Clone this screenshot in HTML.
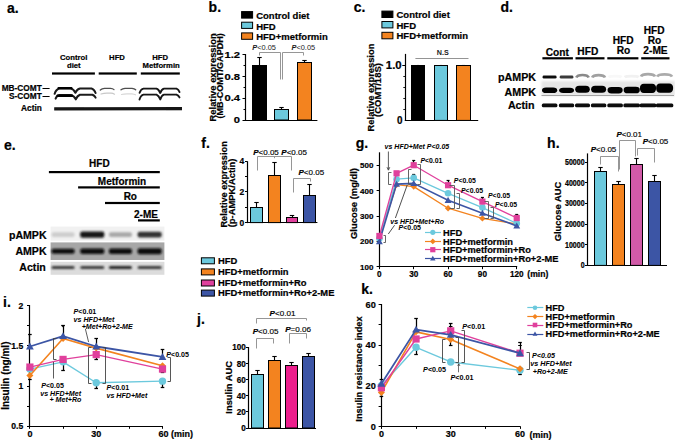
<!DOCTYPE html>
<html><head><meta charset="utf-8"><style>
html,body{margin:0;padding:0;background:#fff;width:675px;height:441px;overflow:hidden}
svg{display:block;font-family:"Liberation Sans", sans-serif}
</style></head><body>
<svg width="675" height="441" viewBox="0 0 675 441" font-family='"Liberation Sans", sans-serif'>
<defs>
<filter id="blur5" filterUnits="userSpaceOnUse" x="0" y="0" width="675" height="441"><feGaussianBlur stdDeviation="0.5"/></filter>
<filter id="blur6" filterUnits="userSpaceOnUse" x="0" y="0" width="675" height="441"><feGaussianBlur stdDeviation="0.6"/></filter>
<filter id="blur8" filterUnits="userSpaceOnUse" x="0" y="0" width="675" height="441"><feGaussianBlur stdDeviation="0.8"/></filter>
</defs>
<rect width="675" height="441" fill="#fff"/>
<text transform="translate(6.90,13.00)" font-size="14" text-anchor="start" font-weight="bold" font-style="normal" fill="#000" stroke="#000" stroke-width="0.2">a.</text>
<text transform="translate(73.60,60.00)" font-size="7.7" text-anchor="middle" font-weight="bold" font-style="normal" fill="#000" stroke="#000" stroke-width="0.2">Control</text>
<text transform="translate(73.80,68.40)" font-size="7.7" text-anchor="middle" font-weight="bold" font-style="normal" fill="#000" stroke="#000" stroke-width="0.2">diet</text>
<text transform="translate(117.00,60.00)" font-size="7.7" text-anchor="middle" font-weight="bold" font-style="normal" fill="#000" stroke="#000" stroke-width="0.2">HFD</text>
<text transform="translate(160.20,60.00)" font-size="7.7" text-anchor="middle" font-weight="bold" font-style="normal" fill="#000" stroke="#000" stroke-width="0.2">HFD</text>
<text transform="translate(161.20,68.40)" font-size="7.7" text-anchor="middle" font-weight="bold" font-style="normal" fill="#000" stroke="#000" stroke-width="0.2">Metformin</text>
<rect x="52.00" y="72.40" width="42.90" height="2.20" fill="#000" stroke="none" stroke-width="1"/>
<rect x="98.70" y="72.40" width="38.10" height="2.20" fill="#000" stroke="none" stroke-width="1"/>
<rect x="140.80" y="72.40" width="39.00" height="2.20" fill="#000" stroke="none" stroke-width="1"/>
<text transform="translate(41.80,90.80)" font-size="8.3" text-anchor="end" font-weight="bold" font-style="normal" fill="#000" stroke="#000" stroke-width="0.2">MB-COMT</text>
<line x1="42.50" y1="88.50" x2="49.60" y2="88.50" stroke="#000" stroke-width="1.0"/>
<text transform="translate(41.80,99.10)" font-size="8.3" text-anchor="end" font-weight="bold" font-style="normal" fill="#000" stroke="#000" stroke-width="0.2">S-COMT</text>
<line x1="42.50" y1="96.50" x2="49.60" y2="96.50" stroke="#000" stroke-width="1.0"/>
<text transform="translate(41.80,110.70)" font-size="8.3" text-anchor="end" font-weight="bold" font-style="normal" fill="#000" stroke="#000" stroke-width="0.2">Actin</text>
<g filter="url(#blur5)" stroke-linejoin="round" stroke-linecap="round">
<path d="M54.6,93.8 Q56.2,89.2 59.5,88.6 L70.5,88.6 Q73.5,89.0 75.4,92.8 Q77.0,89.0 80.0,88.5 L91.5,88.5 Q94.2,89.2 95.6,93.0" stroke="#1a1a1a" stroke-width="2.0" fill="none"/>
<path d="M58.5,88.2 L71.5,88.2" stroke="#000" stroke-width="2.2" fill="none"/>
<path d="M55.6,98.6 Q56.6,95.6 59.5,95.0 L71.0,95.0 Q74.0,95.8 75.8,99.4 Q77.4,95.6 80.0,94.7 L92.5,94.8 Q94.6,95.6 95.6,97.6" stroke="#1a1a1a" stroke-width="2.0" fill="none"/>
<path d="M57.6,95.8 L72.0,95.8" stroke="#000" stroke-width="2.4" fill="none"/>
<path d="M100.3,90.0 Q102,88.4 104.5,88.3 L110.5,88.3 Q112.8,88.4 114.0,89.6" stroke="#505050" stroke-width="1.3" fill="none"/>
<path d="M121.0,89.8 Q122.5,88.4 125,88.3 L132,88.3 Q134.4,88.5 135.7,89.8" stroke="#505050" stroke-width="1.3" fill="none"/>
<path d="M101,94.0 Q104,93.2 107,93.2 L111,93.2 Q113,93.4 114.5,94.2" stroke="#c8c8c8" stroke-width="1.2" fill="none"/>
<path d="M121.5,94.5 Q124,93.8 127,93.8 L132,93.8 Q134,94 135.5,94.8" stroke="#d8d8d8" stroke-width="1.2" fill="none"/>
<path d="M139.6,92.8 Q140.8,89.0 143.5,88.6 L156.5,88.6 Q158.6,89.2 160.3,93.0 Q161.6,89.2 164.0,88.6 L176.5,88.6 Q178.6,89.3 179.5,92.0" stroke="#151515" stroke-width="1.9" fill="none"/>
<path d="M139.5,99.6 Q140.8,95.2 143.5,94.6 L156.5,94.6 Q158.6,95.4 160.3,99.4 Q161.6,95.2 164.0,94.6 L176.5,94.6 Q178.6,95.4 179.5,97.4" stroke="#151515" stroke-width="1.9" fill="none"/>
</g>
<g filter="url(#blur6)">
<path d="M54.2,108.9 L182.0,108.7" stroke="#151515" stroke-width="3.3" fill="none"/>
</g>
<text transform="translate(208.60,11.60)" font-size="14" text-anchor="start" font-weight="bold" font-style="normal" fill="#000" stroke="#000" stroke-width="0.2">b.</text>
<rect x="241.60" y="11.60" width="11.00" height="6.50" fill="#000" stroke="#000" stroke-width="1.0"/>
<rect x="241.60" y="22.20" width="11.00" height="6.20" fill="#6cc9dd" stroke="#000" stroke-width="1.0"/>
<rect x="241.60" y="32.90" width="11.00" height="6.40" fill="#f3831f" stroke="#000" stroke-width="1.0"/>
<text transform="translate(256.20,19.00)" font-size="9.5" text-anchor="start" font-weight="bold" font-style="normal" fill="#000" stroke="#000" stroke-width="0.2">Control diet</text>
<text transform="translate(256.20,29.50)" font-size="9.5" text-anchor="start" font-weight="bold" font-style="normal" fill="#000" stroke="#000" stroke-width="0.2">HFD</text>
<text transform="translate(256.20,40.00)" font-size="9.5" text-anchor="start" font-weight="bold" font-style="normal" fill="#000" stroke="#000" stroke-width="0.2">HFD+metformin</text>
<line x1="245.50" y1="54.00" x2="245.50" y2="120.50" stroke="#000" stroke-width="1.2"/>
<line x1="245.00" y1="120.50" x2="317.40" y2="120.50" stroke="#000" stroke-width="1.2"/>
<line x1="242.50" y1="120.50" x2="245.50" y2="120.50" stroke="#000" stroke-width="1.0"/>
<line x1="243.50" y1="109.50" x2="245.50" y2="109.50" stroke="#000" stroke-width="1.0"/>
<line x1="242.50" y1="98.50" x2="245.50" y2="98.50" stroke="#000" stroke-width="1.0"/>
<line x1="243.50" y1="87.50" x2="245.50" y2="87.50" stroke="#000" stroke-width="1.0"/>
<line x1="242.50" y1="76.50" x2="245.50" y2="76.50" stroke="#000" stroke-width="1.0"/>
<line x1="243.50" y1="65.50" x2="245.50" y2="65.50" stroke="#000" stroke-width="1.0"/>
<line x1="242.50" y1="54.50" x2="245.50" y2="54.50" stroke="#000" stroke-width="1.0"/>
<text transform="translate(240.00,57.80) scale(1.18,1.0)" font-size="9.5" text-anchor="end" font-weight="bold" font-style="normal" fill="#000" stroke="#000" stroke-width="0.2">1.2</text>
<text transform="translate(240.00,79.60) scale(1.18,1.0)" font-size="9.5" text-anchor="end" font-weight="bold" font-style="normal" fill="#000" stroke="#000" stroke-width="0.2">0.8</text>
<text transform="translate(240.00,101.40) scale(1.18,1.0)" font-size="9.5" text-anchor="end" font-weight="bold" font-style="normal" fill="#000" stroke="#000" stroke-width="0.2">0.4</text>
<text transform="translate(240.00,123.20) scale(1.18,1.0)" font-size="9.5" text-anchor="end" font-weight="bold" font-style="normal" fill="#000" stroke="#000" stroke-width="0.2">0</text>
<text transform="translate(215.70,77.40) rotate(-90)" font-size="9.4" text-anchor="middle" font-weight="bold" font-style="normal" fill="#000" stroke="#000" stroke-width="0.2">Relative expression</text>
<text transform="translate(223.20,75.80) rotate(-90)" font-size="9.1" text-anchor="middle" font-weight="bold" font-style="normal" fill="#000" stroke="#000" stroke-width="0.2">(MB-COMT/GAPDH)</text>
<path d="M259.50,55.50 L259.50,52.50 L280.50,52.50 L280.50,79.50" stroke="#8a8a8a" stroke-width="0.9" fill="none"/>
<path d="M282.50,79.50 L282.50,52.50 L303.50,52.50 L303.50,55.50" stroke="#8a8a8a" stroke-width="0.9" fill="none"/>
<text transform="translate(264.10,49.90)" font-size="7.4" text-anchor="middle" font-weight="bold" font-style="normal" fill="#1a1a1a"><tspan font-style="italic">P</tspan><tspan font-weight="normal" stroke-width="0.15">&lt;0.05</tspan></text>
<text transform="translate(303.30,49.90)" font-size="7.4" text-anchor="middle" font-weight="bold" font-style="normal" fill="#1a1a1a"><tspan font-style="italic">P</tspan><tspan font-weight="normal" stroke-width="0.15">&lt;0.05</tspan></text>
<line x1="259.50" y1="65.50" x2="259.50" y2="57.30" stroke="#000" stroke-width="1.1"/>
<line x1="257.30" y1="57.50" x2="261.70" y2="57.50" stroke="#000" stroke-width="1.1"/>
<rect x="252.50" y="65.50" width="14.00" height="54.50" fill="#000" stroke="#000" stroke-width="1.0"/>
<line x1="281.50" y1="109.50" x2="281.50" y2="107.60" stroke="#000" stroke-width="1.1"/>
<line x1="279.30" y1="107.50" x2="283.70" y2="107.50" stroke="#000" stroke-width="1.1"/>
<rect x="274.50" y="109.50" width="14.00" height="10.50" fill="#6cc9dd" stroke="#000" stroke-width="1.0"/>
<line x1="304.50" y1="62.50" x2="304.50" y2="60.40" stroke="#000" stroke-width="1.1"/>
<line x1="302.30" y1="60.50" x2="306.70" y2="60.50" stroke="#000" stroke-width="1.1"/>
<rect x="297.50" y="62.50" width="14.00" height="57.50" fill="#f3831f" stroke="#000" stroke-width="1.0"/>
<text transform="translate(353.70,12.40)" font-size="14" text-anchor="start" font-weight="bold" font-style="normal" fill="#000" stroke="#000" stroke-width="0.2">c.</text>
<rect x="381.90" y="11.10" width="11.00" height="6.40" fill="#000" stroke="#000" stroke-width="1.0"/>
<rect x="381.90" y="21.50" width="11.00" height="6.40" fill="#6cc9dd" stroke="#000" stroke-width="1.0"/>
<rect x="381.90" y="32.30" width="11.00" height="6.50" fill="#f3831f" stroke="#000" stroke-width="1.0"/>
<text transform="translate(396.50,18.40)" font-size="9.5" text-anchor="start" font-weight="bold" font-style="normal" fill="#000" stroke="#000" stroke-width="0.2">Control diet</text>
<text transform="translate(396.50,28.80)" font-size="9.5" text-anchor="start" font-weight="bold" font-style="normal" fill="#000" stroke="#000" stroke-width="0.2">HFD</text>
<text transform="translate(396.50,39.40)" font-size="9.5" text-anchor="start" font-weight="bold" font-style="normal" fill="#000" stroke="#000" stroke-width="0.2">HFD+metformin</text>
<line x1="405.50" y1="53.90" x2="405.50" y2="120.90" stroke="#000" stroke-width="1.2"/>
<line x1="404.80" y1="120.50" x2="478.20" y2="120.50" stroke="#000" stroke-width="1.2"/>
<line x1="403.30" y1="109.50" x2="405.30" y2="109.50" stroke="#000" stroke-width="0.9"/>
<line x1="403.30" y1="98.50" x2="405.30" y2="98.50" stroke="#000" stroke-width="0.9"/>
<line x1="403.30" y1="87.50" x2="405.30" y2="87.50" stroke="#000" stroke-width="0.9"/>
<line x1="403.30" y1="76.50" x2="405.30" y2="76.50" stroke="#000" stroke-width="0.9"/>
<line x1="402.30" y1="65.50" x2="405.30" y2="65.50" stroke="#000" stroke-width="1.0"/>
<text transform="translate(401.70,68.50) scale(1.085,1.0)" font-size="10.5" text-anchor="end" font-weight="bold" font-style="normal" fill="#000" stroke="#000" stroke-width="0.2">1.0</text>
<text transform="translate(402.40,124.40) scale(0.9,1.0)" font-size="11.0" text-anchor="end" font-weight="bold" font-style="normal" fill="#000" stroke="#000" stroke-width="0.22222222222222224">0</text>
<text transform="translate(373.60,87.50) rotate(-90)" font-size="9.35" text-anchor="middle" font-weight="bold" font-style="normal" fill="#000" stroke="#000" stroke-width="0.2">Relative expression</text>
<text transform="translate(381.40,90.00) rotate(-90)" font-size="9.5" text-anchor="middle" font-weight="bold" font-style="normal" fill="#000" stroke="#000" stroke-width="0.2">(COMT/18S)</text>
<line x1="415.40" y1="58.50" x2="468.50" y2="58.50" stroke="#888" stroke-width="0.9"/>
<text transform="translate(442.70,55.30)" font-size="7.2" text-anchor="middle" font-weight="bold" font-style="normal" fill="#222">N.S</text>
<line x1="418.50" y1="65.50" x2="418.50" y2="65.00" stroke="#000" stroke-width="1.1"/>
<line x1="416.50" y1="65.50" x2="419.50" y2="65.50" stroke="#000" stroke-width="1.1"/>
<rect x="411.50" y="65.50" width="13.00" height="54.90" fill="#000" stroke="#000" stroke-width="1.0"/>
<line x1="441.50" y1="65.50" x2="441.50" y2="65.00" stroke="#000" stroke-width="1.1"/>
<line x1="439.50" y1="65.50" x2="442.50" y2="65.50" stroke="#000" stroke-width="1.1"/>
<rect x="434.50" y="65.50" width="13.00" height="54.90" fill="#6cc9dd" stroke="#000" stroke-width="1.0"/>
<line x1="463.50" y1="65.50" x2="463.50" y2="65.00" stroke="#000" stroke-width="1.1"/>
<line x1="462.00" y1="65.50" x2="465.00" y2="65.50" stroke="#000" stroke-width="1.1"/>
<rect x="456.50" y="65.50" width="14.00" height="54.90" fill="#f3831f" stroke="#000" stroke-width="1.0"/>
<text transform="translate(500.50,12.40)" font-size="14" text-anchor="start" font-weight="bold" font-style="normal" fill="#000" stroke="#000" stroke-width="0.2">d.</text>
<text transform="translate(557.30,55.50)" font-size="10.2" text-anchor="middle" font-weight="bold" font-style="normal" fill="#000" stroke="#000" stroke-width="0.2">Cont</text>
<text transform="translate(587.80,55.00)" font-size="10.2" text-anchor="middle" font-weight="bold" font-style="normal" fill="#000" stroke="#000" stroke-width="0.2">HFD</text>
<text transform="translate(623.10,44.10)" font-size="10.2" text-anchor="middle" font-weight="bold" font-style="normal" fill="#000" stroke="#000" stroke-width="0.2">HFD</text>
<text transform="translate(623.50,54.20)" font-size="10.2" text-anchor="middle" font-weight="bold" font-style="normal" fill="#000" stroke="#000" stroke-width="0.2">Ro</text>
<text transform="translate(654.10,33.60)" font-size="10.2" text-anchor="middle" font-weight="bold" font-style="normal" fill="#000" stroke="#000" stroke-width="0.2">HFD</text>
<text transform="translate(654.50,43.80)" font-size="10.2" text-anchor="middle" font-weight="bold" font-style="normal" fill="#000" stroke="#000" stroke-width="0.2">Ro</text>
<text transform="translate(655.50,54.20)" font-size="10.2" text-anchor="middle" font-weight="bold" font-style="normal" fill="#000" stroke="#000" stroke-width="0.2">2-ME</text>
<rect x="542.40" y="57.20" width="30.50" height="2.20" fill="#000" stroke="none" stroke-width="1"/>
<rect x="575.50" y="57.20" width="29.00" height="2.20" fill="#000" stroke="none" stroke-width="1"/>
<rect x="607.30" y="57.20" width="31.10" height="2.20" fill="#000" stroke="none" stroke-width="1"/>
<rect x="641.20" y="57.20" width="28.30" height="2.20" fill="#000" stroke="none" stroke-width="1"/>
<text transform="translate(536.00,81.30)" font-size="10.7" text-anchor="end" font-weight="bold" font-style="normal" fill="#000" stroke="#000" stroke-width="0.2">pAMPK</text>
<text transform="translate(536.00,96.00)" font-size="10.7" text-anchor="end" font-weight="bold" font-style="normal" fill="#000" stroke="#000" stroke-width="0.2">AMPK</text>
<text transform="translate(534.60,108.90)" font-size="10.7" text-anchor="end" font-weight="bold" font-style="normal" fill="#000" stroke="#000" stroke-width="0.2">Actin</text>
<rect x="541.50" y="81.00" width="133.50" height="15.00" fill="#e6e6e6" stroke="none" stroke-width="1" filter="url(#blur8)"/>
<line x1="541.50" y1="95.50" x2="674.00" y2="95.50" stroke="#9a9a9a" stroke-width="0.9"/>
<g filter="url(#blur6)">
<rect x="542.6" y="75.4" width="14.0" height="3.2" rx="1.4" fill="#111"/>
<rect x="559.7" y="75.4" width="13.699999999999932" height="3.2" rx="1.4" fill="#3a3a3a"/>
<path d="M576.3,77.6 Q577.3,75.0 582.5,75.0 Q587.7,75.0 588.7,77.6" stroke="#8a8a8a" stroke-width="2.7" fill="none"/>
<path d="M592.2,77.6 Q593.2,75.2 598.6,75.2 Q604.0,75.2 605.0,77.6" stroke="#a0a0a0" stroke-width="2.7" fill="none"/>
<path d="M608.6,77.2 Q609.6,76.2 615.1,76.2 Q620.6,76.2 621.6,77.2" stroke="#f8f8f8" stroke-width="2.7" fill="none"/>
<path d="M624.7,77.2 Q625.7,76.2 631.7,76.2 Q637.7,76.2 638.7,77.2" stroke="#f1f1f1" stroke-width="2.7" fill="none"/>
<path d="M641.0,76.6 Q642.0,74.2 648.0,74.2 Q654.0,74.2 655.0,76.6" stroke="#a8a8a8" stroke-width="2.7" fill="none"/>
<path d="M657.2,76.6 Q658.2,74.3 664.6,74.3 Q671.0,74.3 672.0,76.6" stroke="#ababab" stroke-width="2.7" fill="none"/>
</g>
<g filter="url(#blur6)">
<path d="M542.0,90.2 Q542.0,87.7 546.0,87.60000000000001 L553.2,87.60000000000001 Q557.2,87.7 557.2,90.2 Q557.2,93.0 553.2,93.0 L546.0,93.0 Q542.0,93.0 542.0,90.2 Z" fill="#060606"/>
<path d="M559.1,90.3 Q559.1,87.89999999999999 563.1,87.8 L570.0,87.8 Q574.0,87.89999999999999 574.0,90.3 Q574.0,93.0 570.0,93.0 L563.1,93.0 Q559.1,93.0 559.1,90.3 Z" fill="#060606"/>
<path d="M575.1999999999999,89.19999999999999 Q575.1999999999999,85.89999999999999 579.1999999999999,85.8 L585.8000000000001,85.8 Q589.8000000000001,85.89999999999999 589.8000000000001,89.19999999999999 Q589.8000000000001,92.8 585.8000000000001,92.8 L579.1999999999999,92.8 Q575.1999999999999,92.8 575.1999999999999,89.19999999999999 Z" fill="#060606"/>
<path d="M591.1,89.19999999999999 Q591.1,85.89999999999999 595.1,85.8 L602.1,85.8 Q606.1,85.89999999999999 606.1,89.19999999999999 Q606.1,92.8 602.1,92.8 L595.1,92.8 Q591.1,92.8 591.1,89.19999999999999 Z" fill="#060606"/>
<path d="M607.5,90.05000000000001 Q607.5,87.0 611.5,86.9 L618.7,86.9 Q622.7,87.0 622.7,90.05000000000001 Q622.7,93.4 618.7,93.4 L611.5,93.4 Q607.5,93.4 607.5,90.05000000000001 Z" fill="#060606"/>
<path d="M623.6,89.9 Q623.6,86.8 627.6,86.7 L635.8000000000001,86.7 Q639.8000000000001,86.8 639.8000000000001,89.9 Q639.8000000000001,93.3 635.8000000000001,93.3 L627.6,93.3 Q623.6,93.3 623.6,89.9 Z" fill="#060606"/>
<path d="M639.9,88.3 Q639.9,83.89999999999999 643.9,83.8 L652.1,83.8 Q656.1,83.89999999999999 656.1,88.3 Q656.1,93.0 652.1,93.0 L643.9,93.0 Q639.9,93.0 639.9,88.3 Z" fill="#060606"/>
<path d="M656.1,88.1 Q656.1,83.7 660.1,83.60000000000001 L669.1,83.60000000000001 Q673.1,83.7 673.1,88.1 Q673.1,92.8 669.1,92.8 L660.1,92.8 Q656.1,92.8 656.1,88.1 Z" fill="#060606"/>
</g>
<g filter="url(#blur6)">
<rect x="541.8000000000001" y="103.5" width="15.6" height="3.8" rx="1.5" fill="#0a0a0a"/>
<rect x="558.9000000000001" y="103.5" width="15.299999999999931" height="3.8" rx="1.5" fill="#0a0a0a"/>
<rect x="575.0" y="103.5" width="15.00000000000009" height="3.8" rx="1.5" fill="#0a0a0a"/>
<rect x="590.9000000000001" y="103.5" width="15.399999999999954" height="3.8" rx="1.5" fill="#0a0a0a"/>
<rect x="607.3000000000001" y="103.5" width="15.6" height="3.8" rx="1.5" fill="#0a0a0a"/>
<rect x="623.4000000000001" y="103.5" width="16.6" height="3.8" rx="1.5" fill="#0a0a0a"/>
<rect x="639.7" y="103.5" width="16.6" height="3.8" rx="1.5" fill="#0a0a0a"/>
<rect x="655.9000000000001" y="103.5" width="17.399999999999956" height="3.8" rx="1.5" fill="#0a0a0a"/>
</g>
<text transform="translate(3.90,150.30)" font-size="14" text-anchor="start" font-weight="bold" font-style="normal" fill="#000" stroke="#000" stroke-width="0.2">e.</text>
<text transform="translate(99.40,167.20)" font-size="10" text-anchor="middle" font-weight="bold" font-style="normal" fill="#000" stroke="#000" stroke-width="0.2">HFD</text>
<rect x="48.90" y="171.00" width="110.90" height="2.20" fill="#000" stroke="none" stroke-width="1"/>
<text transform="translate(122.00,184.50)" font-size="10" text-anchor="middle" font-weight="bold" font-style="normal" fill="#000" stroke="#000" stroke-width="0.2">Metformin</text>
<rect x="78.10" y="186.30" width="81.70" height="2.20" fill="#000" stroke="none" stroke-width="1"/>
<text transform="translate(130.30,199.90)" font-size="10" text-anchor="middle" font-weight="bold" font-style="normal" fill="#000" stroke="#000" stroke-width="0.2">Ro</text>
<rect x="105.00" y="201.90" width="54.80" height="2.20" fill="#000" stroke="none" stroke-width="1"/>
<text transform="translate(146.00,217.70)" font-size="10" text-anchor="middle" font-weight="bold" font-style="normal" fill="#000" stroke="#000" stroke-width="0.2">2-ME</text>
<rect x="138.00" y="219.30" width="21.80" height="2.20" fill="#000" stroke="none" stroke-width="1"/>
<text transform="translate(46.60,238.80)" font-size="10.6" text-anchor="end" font-weight="bold" font-style="normal" fill="#000" stroke="#000" stroke-width="0.2">pAMPK</text>
<text transform="translate(46.60,255.20)" font-size="10.6" text-anchor="end" font-weight="bold" font-style="normal" fill="#000" stroke="#000" stroke-width="0.2">AMPK</text>
<text transform="translate(45.80,271.20)" font-size="10.6" text-anchor="end" font-weight="bold" font-style="normal" fill="#000" stroke="#000" stroke-width="0.2">Actin</text>
<rect x="50.60" y="226.60" width="113.80" height="14.00" fill="#f1f1f1" stroke="none" stroke-width="1"/>
<rect x="50.60" y="242.40" width="113.80" height="17.60" fill="#a7a7a7" stroke="none" stroke-width="1"/>
<rect x="50.60" y="261.80" width="113.80" height="13.00" fill="#dcdcdc" stroke="none" stroke-width="1"/>
<g filter="url(#blur8)">
<rect x="51.5" y="232.2" width="23.099999999999994" height="4.8" rx="2" fill="#cdcdcd"/>
<rect x="80.2" y="231.5" width="24.099999999999994" height="6.2" rx="2" fill="#141414"/>
<rect x="108.9" y="232.2" width="23.099999999999994" height="4.8" rx="2" fill="#a8a8a8"/>
<rect x="137.6" y="231.79999999999998" width="24.099999999999994" height="5.6" rx="2" fill="#333"/>
<rect x="51.5" y="248.7" width="23.099999999999994" height="5.0" rx="2" fill="#0c0c0c"/>
<rect x="80.2" y="248.39999999999998" width="24.099999999999994" height="5.6" rx="2" fill="#0c0c0c"/>
<rect x="108.9" y="248.39999999999998" width="23.099999999999994" height="5.6" rx="2" fill="#0c0c0c"/>
<rect x="137.6" y="248.2" width="24.099999999999994" height="6.0" rx="2" fill="#0c0c0c"/>
<rect x="51.5" y="265.9" width="23.099999999999994" height="3.0" rx="1.5" fill="#3a3a3a"/>
<rect x="80.2" y="265.9" width="24.099999999999994" height="3.0" rx="1.5" fill="#3a3a3a"/>
<rect x="108.9" y="265.9" width="23.099999999999994" height="3.0" rx="1.5" fill="#202020"/>
<rect x="137.6" y="265.9" width="24.099999999999994" height="3.0" rx="1.5" fill="#3a3a3a"/>
</g>
<text transform="translate(201.30,148.20)" font-size="14" text-anchor="start" font-weight="bold" font-style="normal" fill="#000" stroke="#000" stroke-width="0.2">f.</text>
<line x1="247.50" y1="161.30" x2="247.50" y2="223.10" stroke="#000" stroke-width="1.2"/>
<line x1="247.00" y1="222.50" x2="317.40" y2="222.50" stroke="#000" stroke-width="1.2"/>
<line x1="245.00" y1="222.50" x2="247.50" y2="222.50" stroke="#000" stroke-width="1.0"/>
<line x1="245.00" y1="207.50" x2="247.50" y2="207.50" stroke="#000" stroke-width="1.0"/>
<line x1="245.00" y1="191.50" x2="247.50" y2="191.50" stroke="#000" stroke-width="1.0"/>
<line x1="245.00" y1="176.50" x2="247.50" y2="176.50" stroke="#000" stroke-width="1.0"/>
<line x1="245.00" y1="161.50" x2="247.50" y2="161.50" stroke="#000" stroke-width="1.0"/>
<text transform="translate(244.30,225.60)" font-size="8.5" text-anchor="end" font-weight="bold" font-style="normal" fill="#000" stroke="#000" stroke-width="0.2">0</text>
<text transform="translate(244.30,194.94)" font-size="8.5" text-anchor="end" font-weight="bold" font-style="normal" fill="#000" stroke="#000" stroke-width="0.2">2</text>
<text transform="translate(244.30,164.28)" font-size="8.5" text-anchor="end" font-weight="bold" font-style="normal" fill="#000" stroke="#000" stroke-width="0.2">4</text>
<text transform="translate(227.30,184.40) rotate(-90)" font-size="9.2" text-anchor="middle" font-weight="bold" font-style="normal" fill="#000" stroke="#000" stroke-width="0.2">Relative expression</text>
<text transform="translate(234.90,192.90) rotate(-90)" font-size="9.4" text-anchor="middle" font-weight="bold" font-style="normal" fill="#000" stroke="#000" stroke-width="0.2">(p-AMPK/Actin)</text>
<path d="M257.50,170.50 L257.50,156.50 L291.50,156.50 L291.50,170.50" stroke="#8a8a8a" stroke-width="0.9" fill="none"/>
<line x1="274.50" y1="156.70" x2="274.50" y2="158.20" stroke="#8a8a8a" stroke-width="0.9"/>
<path d="M293.50,192.50 L293.50,178.50 L310.50,178.50 L310.50,181.50" stroke="#8a8a8a" stroke-width="0.9" fill="none"/>
<text transform="translate(253.20,154.90)" font-size="8.0" text-anchor="start" font-weight="bold" font-style="normal" fill="#000" stroke="#000" stroke-width="0.2"><tspan font-style="italic">P</tspan><tspan font-weight="normal" stroke-width="0.15">&lt;0.05</tspan></text>
<text transform="translate(281.30,154.90)" font-size="8.0" text-anchor="start" font-weight="bold" font-style="normal" fill="#000" stroke="#000" stroke-width="0.2"><tspan font-style="italic">P</tspan><tspan font-weight="normal" stroke-width="0.15">&lt;0.05</tspan></text>
<text transform="translate(298.50,174.90)" font-size="8.0" text-anchor="start" font-weight="bold" font-style="normal" fill="#000" stroke="#000" stroke-width="0.2"><tspan font-style="italic">P</tspan><tspan font-weight="normal" stroke-width="0.15">&lt;0.05</tspan></text>
<line x1="256.50" y1="207.50" x2="256.50" y2="202.60" stroke="#000" stroke-width="1.1"/>
<line x1="254.30" y1="202.50" x2="258.70" y2="202.50" stroke="#000" stroke-width="1.1"/>
<rect x="250.50" y="207.50" width="12.00" height="15.10" fill="#6cc9dd" stroke="#000" stroke-width="1.0"/>
<line x1="274.50" y1="175.50" x2="274.50" y2="162.90" stroke="#000" stroke-width="1.1"/>
<line x1="272.30" y1="162.50" x2="276.70" y2="162.50" stroke="#000" stroke-width="1.1"/>
<rect x="268.50" y="175.50" width="12.00" height="47.10" fill="#f3831f" stroke="#000" stroke-width="1.0"/>
<line x1="292.50" y1="217.50" x2="292.50" y2="215.10" stroke="#000" stroke-width="1.1"/>
<line x1="289.80" y1="215.50" x2="294.20" y2="215.50" stroke="#000" stroke-width="1.1"/>
<rect x="286.50" y="217.50" width="11.00" height="5.10" fill="#e0409c" stroke="#000" stroke-width="1.0"/>
<line x1="309.50" y1="195.50" x2="309.50" y2="184.50" stroke="#000" stroke-width="1.1"/>
<line x1="307.30" y1="184.50" x2="311.70" y2="184.50" stroke="#000" stroke-width="1.1"/>
<rect x="303.50" y="195.50" width="12.00" height="27.10" fill="#3c55a5" stroke="#000" stroke-width="1.0"/>
<rect x="201.40" y="257.80" width="13.00" height="6.00" fill="#6cc9dd" stroke="#000" stroke-width="1.0"/>
<rect x="201.40" y="268.90" width="13.00" height="6.00" fill="#f3831f" stroke="#000" stroke-width="1.0"/>
<rect x="201.40" y="280.00" width="13.00" height="6.00" fill="#e0409c" stroke="#000" stroke-width="1.0"/>
<rect x="201.40" y="290.10" width="13.00" height="6.00" fill="#3c55a5" stroke="#000" stroke-width="1.0"/>
<text transform="translate(218.00,263.90)" font-size="9.4" text-anchor="start" font-weight="bold" font-style="normal" fill="#000" stroke="#000" stroke-width="0.2">HFD</text>
<text transform="translate(218.00,275.00)" font-size="9.4" text-anchor="start" font-weight="bold" font-style="normal" fill="#000" stroke="#000" stroke-width="0.2">HFD+metformin</text>
<text transform="translate(218.00,286.00)" font-size="9.4" text-anchor="start" font-weight="bold" font-style="normal" fill="#000" stroke="#000" stroke-width="0.2">HFD+metformin+Ro</text>
<text transform="translate(218.00,296.20)" font-size="9.4" text-anchor="start" font-weight="bold" font-style="normal" fill="#000" stroke="#000" stroke-width="0.2">HFD+metformin+Ro+2-ME</text>
<text transform="translate(355.70,148.20)" font-size="14" text-anchor="start" font-weight="bold" font-style="normal" fill="#000" stroke="#000" stroke-width="0.2">g.</text>
<line x1="379.50" y1="152.30" x2="379.50" y2="267.40" stroke="#000" stroke-width="1.2"/>
<line x1="378.80" y1="266.50" x2="517.20" y2="266.50" stroke="#000" stroke-width="1.2"/>
<line x1="376.60" y1="266.50" x2="379.40" y2="266.50" stroke="#000" stroke-width="1.0"/>
<text transform="translate(373.40,269.70)" font-size="8.0" text-anchor="end" font-weight="bold" font-style="normal" fill="#000" stroke="#000" stroke-width="0.2">100</text>
<line x1="376.60" y1="241.50" x2="379.40" y2="241.50" stroke="#000" stroke-width="1.0"/>
<text transform="translate(373.40,244.30)" font-size="8.0" text-anchor="end" font-weight="bold" font-style="normal" fill="#000" stroke="#000" stroke-width="0.2">200</text>
<line x1="376.60" y1="216.50" x2="379.40" y2="216.50" stroke="#000" stroke-width="1.0"/>
<text transform="translate(373.40,218.90)" font-size="8.0" text-anchor="end" font-weight="bold" font-style="normal" fill="#000" stroke="#000" stroke-width="0.2">300</text>
<line x1="376.60" y1="190.50" x2="379.40" y2="190.50" stroke="#000" stroke-width="1.0"/>
<text transform="translate(373.40,193.50)" font-size="8.0" text-anchor="end" font-weight="bold" font-style="normal" fill="#000" stroke="#000" stroke-width="0.2">400</text>
<line x1="376.60" y1="165.50" x2="379.40" y2="165.50" stroke="#000" stroke-width="1.0"/>
<text transform="translate(373.40,168.10)" font-size="8.0" text-anchor="end" font-weight="bold" font-style="normal" fill="#000" stroke="#000" stroke-width="0.2">500</text>
<line x1="379.50" y1="266.80" x2="379.50" y2="269.20" stroke="#000" stroke-width="1.0"/>
<text transform="translate(379.40,276.60)" font-size="8.2" text-anchor="middle" font-weight="bold" font-style="normal" fill="#000" stroke="#000" stroke-width="0.2">0</text>
<line x1="413.50" y1="266.80" x2="413.50" y2="269.20" stroke="#000" stroke-width="1.0"/>
<text transform="translate(413.73,276.60)" font-size="8.2" text-anchor="middle" font-weight="bold" font-style="normal" fill="#000" stroke="#000" stroke-width="0.2">30</text>
<line x1="448.50" y1="266.80" x2="448.50" y2="269.20" stroke="#000" stroke-width="1.0"/>
<text transform="translate(448.07,276.60)" font-size="8.2" text-anchor="middle" font-weight="bold" font-style="normal" fill="#000" stroke="#000" stroke-width="0.2">60</text>
<line x1="482.50" y1="266.80" x2="482.50" y2="269.20" stroke="#000" stroke-width="1.0"/>
<text transform="translate(482.40,276.60)" font-size="8.2" text-anchor="middle" font-weight="bold" font-style="normal" fill="#000" stroke="#000" stroke-width="0.2">90</text>
<line x1="516.50" y1="266.80" x2="516.50" y2="269.20" stroke="#000" stroke-width="1.0"/>
<text transform="translate(516.74,276.60)" font-size="8.2" text-anchor="middle" font-weight="bold" font-style="normal" fill="#000" stroke="#000" stroke-width="0.2">120</text>
<text transform="translate(527.30,277.00)" font-size="8.6" text-anchor="start" font-weight="bold" font-style="normal" fill="#000" stroke="#000" stroke-width="0.2">(min)</text>
<text transform="translate(357.00,203.50) rotate(-90)" font-size="9.4" text-anchor="middle" font-weight="bold" font-style="normal" fill="#000" stroke="#000" stroke-width="0.2">Glucose (mg/dl)</text>
<line x1="413.50" y1="165.20" x2="413.50" y2="160.50" stroke="#000" stroke-width="1.25"/>
<line x1="412.23" y1="160.50" x2="415.23" y2="160.50" stroke="#000" stroke-width="1.25"/>
<line x1="448.50" y1="185.20" x2="448.50" y2="180.60" stroke="#000" stroke-width="1.25"/>
<line x1="446.57" y1="180.50" x2="449.57" y2="180.50" stroke="#000" stroke-width="1.25"/>
<line x1="482.50" y1="201.60" x2="482.50" y2="197.80" stroke="#000" stroke-width="1.25"/>
<line x1="480.90" y1="197.50" x2="483.90" y2="197.50" stroke="#000" stroke-width="1.25"/>
<line x1="516.50" y1="218.00" x2="516.50" y2="214.50" stroke="#000" stroke-width="1.25"/>
<line x1="515.24" y1="214.50" x2="518.24" y2="214.50" stroke="#000" stroke-width="1.25"/>
<line x1="413.50" y1="177.90" x2="413.50" y2="174.40" stroke="#000" stroke-width="1.25"/>
<line x1="412.23" y1="174.50" x2="415.23" y2="174.50" stroke="#000" stroke-width="1.25"/>
<path d="M379.40,238.00 L396.57,184.70 L413.73,186.60 L448.07,208.20 L482.40,218.40 L516.74,224.00" stroke="#f3831f" stroke-width="1.3" fill="none" stroke-linejoin="round"/>
<path d="M379.40,234.80 L382.60,238.00 L379.40,241.20 L376.20,238.00Z" fill="#f3831f"/>
<path d="M396.57,181.50 L399.77,184.70 L396.57,187.90 L393.37,184.70Z" fill="#f3831f"/>
<path d="M413.73,183.40 L416.93,186.60 L413.73,189.80 L410.53,186.60Z" fill="#f3831f"/>
<path d="M448.07,205.00 L451.27,208.20 L448.07,211.40 L444.87,208.20Z" fill="#f3831f"/>
<path d="M482.40,215.20 L485.60,218.40 L482.40,221.60 L479.20,218.40Z" fill="#f3831f"/>
<path d="M516.74,220.80 L519.94,224.00 L516.74,227.20 L513.54,224.00Z" fill="#f3831f"/>
<path d="M379.40,238.50 L396.57,179.20 L413.73,177.90 L448.07,193.30 L482.40,207.60 L516.74,223.40" stroke="#6cc9dd" stroke-width="1.3" fill="none" stroke-linejoin="round"/>
<circle cx="379.40" cy="238.50" r="3.30" fill="#6cc9dd"/>
<circle cx="396.57" cy="179.20" r="3.30" fill="#6cc9dd"/>
<circle cx="413.73" cy="177.90" r="3.30" fill="#6cc9dd"/>
<circle cx="448.07" cy="193.30" r="3.30" fill="#6cc9dd"/>
<circle cx="482.40" cy="207.60" r="3.30" fill="#6cc9dd"/>
<circle cx="516.74" cy="223.40" r="3.30" fill="#6cc9dd"/>
<path d="M379.40,241.60 L396.57,184.10 L413.73,183.40 L448.07,200.30 L482.40,213.20 L516.74,225.90" stroke="#3c55a5" stroke-width="1.6" fill="none" stroke-linejoin="round"/>
<path d="M379.40,238.13 L382.86,244.24 L375.94,244.24Z" fill="#3c55a5"/>
<path d="M396.57,180.63 L400.03,186.74 L393.10,186.74Z" fill="#3c55a5"/>
<path d="M413.73,179.94 L417.20,186.04 L410.27,186.04Z" fill="#3c55a5"/>
<path d="M448.07,196.84 L451.53,202.94 L444.61,202.94Z" fill="#3c55a5"/>
<path d="M482.40,209.73 L485.87,215.84 L478.94,215.84Z" fill="#3c55a5"/>
<path d="M516.74,222.44 L520.21,228.54 L513.27,228.54Z" fill="#3c55a5"/>
<path d="M379.40,236.00 L396.57,173.30 L413.73,165.20 L448.07,185.20 L482.40,201.60 L516.74,218.00" stroke="#e0409c" stroke-width="1.3" fill="none" stroke-linejoin="round"/>
<rect x="376.30" y="232.90" width="6.20" height="6.20" fill="#e0409c"/>
<rect x="393.47" y="170.20" width="6.20" height="6.20" fill="#e0409c"/>
<rect x="410.63" y="162.10" width="6.20" height="6.20" fill="#e0409c"/>
<rect x="444.97" y="182.10" width="6.20" height="6.20" fill="#e0409c"/>
<rect x="479.30" y="198.50" width="6.20" height="6.20" fill="#e0409c"/>
<rect x="513.64" y="214.90" width="6.20" height="6.20" fill="#e0409c"/>
<text transform="translate(384.60,149.00)" font-size="7.0" text-anchor="start" font-weight="bold" font-style="italic" fill="#000">vs HFD+Met <tspan>P</tspan>&lt;0.05</text>
<path d="M388.4,151.5 L388.4,169.5" stroke="#333" stroke-width="0.8" fill="none"/>
<path d="M387.0,167.2 L388.4,170.2 L389.8,167.2" stroke="#333" stroke-width="0.8" fill="none"/>
<path d="M391.50,172.50 L388.50,172.50 L388.50,184.50 L391.50,184.50" stroke="#555" stroke-width="0.9" fill="none"/>
<path d="M411.50,169.50 L408.50,169.50 L408.50,184.50 L411.50,184.50" stroke="#555" stroke-width="0.9" fill="none"/>
<path d="M417.50,164.50 L420.50,164.50 L420.50,184.50 L417.50,184.50" stroke="#555" stroke-width="0.9" fill="none"/>
<text transform="translate(420.40,163.40)" font-size="6.9" text-anchor="start" font-weight="bold" font-style="normal" fill="#000"><tspan font-style="italic">P</tspan>&lt;0.01</text>
<path d="M449.50,185.50 L454.50,185.50 L454.50,208.50 L449.50,208.50" stroke="#555" stroke-width="0.9" fill="none"/>
<path d="M456.50,193.50 L459.50,193.50 L459.50,208.50 L456.50,208.50" stroke="#555" stroke-width="0.9" fill="none"/>
<text transform="translate(453.80,183.30)" font-size="6.9" text-anchor="start" font-weight="bold" font-style="normal" fill="#000"><tspan font-style="italic">P</tspan>&lt;0.05</text>
<text transform="translate(461.00,193.10)" font-size="6.9" text-anchor="start" font-weight="bold" font-style="normal" fill="#000"><tspan font-style="italic">P</tspan>&lt;0.05</text>
<path d="M484.50,201.50 L488.50,201.50 L488.50,218.50 L484.50,218.50" stroke="#555" stroke-width="0.9" fill="none"/>
<path d="M490.50,207.50 L493.50,207.50 L493.50,218.50 L490.50,218.50" stroke="#555" stroke-width="0.9" fill="none"/>
<text transform="translate(488.00,197.50)" font-size="6.9" text-anchor="start" font-weight="bold" font-style="normal" fill="#000"><tspan font-style="italic">P</tspan>&lt;0.05</text>
<text transform="translate(495.00,206.60)" font-size="6.9" text-anchor="start" font-weight="bold" font-style="normal" fill="#000"><tspan font-style="italic">P</tspan>&lt;0.05</text>
<text transform="translate(390.30,223.50)" font-size="7.0" text-anchor="start" font-weight="bold" font-style="italic" fill="#000">vs HFD+Met+Ro</text>
<text transform="translate(398.60,230.10)" font-size="7.0" text-anchor="start" font-weight="bold" font-style="normal" fill="#000"><tspan font-style="italic">P</tspan>&lt;0.05</text>
<line x1="395.40" y1="218.00" x2="407.30" y2="184.80" stroke="#222" stroke-width="0.8"/>
<line x1="394.60" y1="225.20" x2="388.30" y2="234.00" stroke="#222" stroke-width="0.8"/>
<path d="M383.50,235.50 L385.50,235.50 L385.50,242.50 L383.50,242.50" stroke="#555" stroke-width="0.9" fill="none"/>
<line x1="425.00" y1="232.50" x2="441.00" y2="232.50" stroke="#6cc9dd" stroke-width="1.2"/>
<circle cx="432.80" cy="232.30" r="2.60" fill="#6cc9dd"/>
<line x1="425.00" y1="241.50" x2="441.00" y2="241.50" stroke="#f3831f" stroke-width="1.2"/>
<path d="M432.80,238.50 L435.70,241.40 L432.80,244.30 L429.90,241.40Z" fill="#f3831f"/>
<line x1="425.00" y1="249.50" x2="441.00" y2="249.50" stroke="#e0409c" stroke-width="1.2"/>
<rect x="430.20" y="247.10" width="5.20" height="5.20" fill="#e0409c"/>
<line x1="425.00" y1="258.50" x2="441.00" y2="258.50" stroke="#3c55a5" stroke-width="1.2"/>
<path d="M432.80,255.77 L435.53,260.58 L430.07,260.58Z" fill="#3c55a5"/>
<text transform="translate(443.00,235.60) scale(1.0,1.03)" font-size="9.3" text-anchor="start" font-weight="bold" font-style="normal" fill="#000" stroke="#000" stroke-width="0.2">HFD</text>
<text transform="translate(443.00,244.70) scale(1.0,1.03)" font-size="9.3" text-anchor="start" font-weight="bold" font-style="normal" fill="#000" stroke="#000" stroke-width="0.2">HFD+metformin</text>
<text transform="translate(443.00,253.00) scale(1.0,1.03)" font-size="9.3" text-anchor="start" font-weight="bold" font-style="normal" fill="#000" stroke="#000" stroke-width="0.2">HFD+metformin+Ro</text>
<text transform="translate(443.00,261.80) scale(1.0,1.03)" font-size="9.3" text-anchor="start" font-weight="bold" font-style="normal" fill="#000" stroke="#000" stroke-width="0.2">HFD+metformin+Ro+2-ME</text>
<text transform="translate(547.10,147.90)" font-size="14" text-anchor="start" font-weight="bold" font-style="normal" fill="#000" stroke="#000" stroke-width="0.2">h.</text>
<line x1="587.50" y1="153.40" x2="587.50" y2="266.00" stroke="#000" stroke-width="1.2"/>
<line x1="587.00" y1="265.50" x2="667.00" y2="265.50" stroke="#000" stroke-width="1.2"/>
<line x1="585.00" y1="265.50" x2="587.60" y2="265.50" stroke="#000" stroke-width="1.0"/>
<text transform="translate(584.60,268.30) scale(0.84,1.0)" font-size="8.4" text-anchor="end" font-weight="bold" font-style="normal" fill="#000" stroke="#000" stroke-width="0.2380952380952381">0</text>
<line x1="585.00" y1="244.50" x2="587.60" y2="244.50" stroke="#000" stroke-width="1.0"/>
<text transform="translate(584.60,247.68) scale(0.84,1.0)" font-size="8.4" text-anchor="end" font-weight="bold" font-style="normal" fill="#000" stroke="#000" stroke-width="0.2380952380952381">10000</text>
<line x1="585.00" y1="224.50" x2="587.60" y2="224.50" stroke="#000" stroke-width="1.0"/>
<text transform="translate(584.60,227.06) scale(0.84,1.0)" font-size="8.4" text-anchor="end" font-weight="bold" font-style="normal" fill="#000" stroke="#000" stroke-width="0.2380952380952381">20000</text>
<line x1="585.00" y1="203.50" x2="587.60" y2="203.50" stroke="#000" stroke-width="1.0"/>
<text transform="translate(584.60,206.44) scale(0.84,1.0)" font-size="8.4" text-anchor="end" font-weight="bold" font-style="normal" fill="#000" stroke="#000" stroke-width="0.2380952380952381">30000</text>
<line x1="585.00" y1="182.50" x2="587.60" y2="182.50" stroke="#000" stroke-width="1.0"/>
<text transform="translate(584.60,185.82) scale(0.84,1.0)" font-size="8.4" text-anchor="end" font-weight="bold" font-style="normal" fill="#000" stroke="#000" stroke-width="0.2380952380952381">40000</text>
<line x1="585.00" y1="162.50" x2="587.60" y2="162.50" stroke="#000" stroke-width="1.0"/>
<text transform="translate(584.60,165.20) scale(0.84,1.0)" font-size="8.4" text-anchor="end" font-weight="bold" font-style="normal" fill="#000" stroke="#000" stroke-width="0.2380952380952381">50000</text>
<text transform="translate(560.60,211.50) rotate(-90)" font-size="9.4" text-anchor="middle" font-weight="bold" font-style="normal" fill="#000" stroke="#000" stroke-width="0.2">Glucose AUC</text>
<line x1="600.50" y1="171.50" x2="600.50" y2="167.40" stroke="#000" stroke-width="1.1"/>
<line x1="598.30" y1="167.50" x2="602.70" y2="167.50" stroke="#000" stroke-width="1.1"/>
<rect x="594.50" y="171.50" width="12.00" height="93.90" fill="#6cc9dd" stroke="#000" stroke-width="1.0"/>
<line x1="618.50" y1="184.50" x2="618.50" y2="181.00" stroke="#000" stroke-width="1.1"/>
<line x1="616.30" y1="181.50" x2="620.70" y2="181.50" stroke="#000" stroke-width="1.1"/>
<rect x="612.50" y="184.50" width="12.00" height="80.90" fill="#f3831f" stroke="#000" stroke-width="1.0"/>
<line x1="636.50" y1="164.50" x2="636.50" y2="158.60" stroke="#000" stroke-width="1.1"/>
<line x1="634.30" y1="158.50" x2="638.70" y2="158.50" stroke="#000" stroke-width="1.1"/>
<rect x="630.50" y="164.50" width="12.00" height="100.90" fill="#d15aa8" stroke="#000" stroke-width="1.0"/>
<line x1="654.50" y1="181.50" x2="654.50" y2="175.00" stroke="#000" stroke-width="1.1"/>
<line x1="652.30" y1="175.50" x2="656.70" y2="175.50" stroke="#000" stroke-width="1.1"/>
<rect x="648.50" y="181.50" width="12.00" height="83.90" fill="#3c55a5" stroke="#000" stroke-width="1.0"/>
<path d="M600.50,164.50 L600.50,156.50 L618.50,156.50 L618.50,171.50" stroke="#8a8a8a" stroke-width="0.9" fill="none"/>
<path d="M619.50,169.50 L619.50,140.50 L635.50,140.50 L635.50,156.50" stroke="#8a8a8a" stroke-width="0.9" fill="none"/>
<path d="M637.50,155.50 L637.50,148.50 L654.50,148.50 L654.50,162.50" stroke="#8a8a8a" stroke-width="0.9" fill="none"/>
<text transform="translate(603.50,152.30)" font-size="8.0" text-anchor="middle" font-weight="bold" font-style="normal" fill="#000" stroke="#000" stroke-width="0.2"><tspan font-style="italic">P</tspan><tspan font-weight="normal" stroke-width="0.15">&lt;0.05</tspan></text>
<text transform="translate(629.20,137.30)" font-size="8.0" text-anchor="middle" font-weight="bold" font-style="normal" fill="#000" stroke="#000" stroke-width="0.2"><tspan font-style="italic">P</tspan><tspan font-weight="normal" stroke-width="0.15">&lt;0.01</tspan></text>
<text transform="translate(655.50,144.00)" font-size="8.0" text-anchor="middle" font-weight="bold" font-style="normal" fill="#000" stroke="#000" stroke-width="0.2"><tspan font-style="italic">P</tspan><tspan font-weight="normal" stroke-width="0.15">&lt;0.05</tspan></text>
<text transform="translate(3.10,306.50)" font-size="14" text-anchor="start" font-weight="bold" font-style="normal" fill="#000" stroke="#000" stroke-width="0.2">i.</text>
<line x1="29.50" y1="305.00" x2="29.50" y2="427.00" stroke="#000" stroke-width="1.2"/>
<line x1="29.30" y1="426.50" x2="163.00" y2="426.50" stroke="#000" stroke-width="1.2"/>
<line x1="27.00" y1="426.50" x2="29.90" y2="426.50" stroke="#000" stroke-width="1.0"/>
<line x1="27.00" y1="406.50" x2="29.90" y2="406.50" stroke="#000" stroke-width="1.0"/>
<line x1="27.00" y1="386.50" x2="29.90" y2="386.50" stroke="#000" stroke-width="1.0"/>
<line x1="27.00" y1="365.50" x2="29.90" y2="365.50" stroke="#000" stroke-width="1.0"/>
<line x1="27.00" y1="345.50" x2="29.90" y2="345.50" stroke="#000" stroke-width="1.0"/>
<line x1="27.00" y1="325.50" x2="29.90" y2="325.50" stroke="#000" stroke-width="1.0"/>
<line x1="27.00" y1="305.50" x2="29.90" y2="305.50" stroke="#000" stroke-width="1.0"/>
<text transform="translate(23.20,429.40)" font-size="8.6" text-anchor="end" font-weight="bold" font-style="normal" fill="#000" stroke="#000" stroke-width="0.2">0.5</text>
<text transform="translate(23.20,389.10)" font-size="8.6" text-anchor="end" font-weight="bold" font-style="normal" fill="#000" stroke="#000" stroke-width="0.2">1</text>
<text transform="translate(23.20,348.80)" font-size="8.6" text-anchor="end" font-weight="bold" font-style="normal" fill="#000" stroke="#000" stroke-width="0.2">1.5</text>
<text transform="translate(23.20,308.50)" font-size="8.6" text-anchor="end" font-weight="bold" font-style="normal" fill="#000" stroke="#000" stroke-width="0.2">2</text>
<line x1="29.50" y1="426.30" x2="29.50" y2="428.80" stroke="#000" stroke-width="1.0"/>
<line x1="63.50" y1="426.30" x2="63.50" y2="428.80" stroke="#000" stroke-width="1.0"/>
<line x1="96.50" y1="426.30" x2="96.50" y2="428.80" stroke="#000" stroke-width="1.0"/>
<line x1="129.50" y1="426.30" x2="129.50" y2="428.80" stroke="#000" stroke-width="1.0"/>
<line x1="162.50" y1="426.30" x2="162.50" y2="428.80" stroke="#000" stroke-width="1.0"/>
<text transform="translate(29.90,437.30)" font-size="9.0" text-anchor="middle" font-weight="bold" font-style="normal" fill="#000" stroke="#000" stroke-width="0.2">0</text>
<text transform="translate(96.20,437.30)" font-size="9.0" text-anchor="middle" font-weight="bold" font-style="normal" fill="#000" stroke="#000" stroke-width="0.2">30</text>
<text transform="translate(158.40,437.30)" font-size="9.0" text-anchor="start" font-weight="bold" font-style="normal" fill="#000" stroke="#000" stroke-width="0.2">60 (min)</text>
<text transform="translate(9.30,375.70) rotate(-90)" font-size="10.0" text-anchor="middle" font-weight="bold" font-style="normal" fill="#000" stroke="#000" stroke-width="0.2">Insulin (ng/ml)</text>
<line x1="29.50" y1="346.51" x2="29.50" y2="334.50" stroke="#000" stroke-width="1.25"/>
<line x1="28.10" y1="334.50" x2="31.70" y2="334.50" stroke="#000" stroke-width="1.25"/>
<line x1="63.50" y1="336.03" x2="63.50" y2="325.40" stroke="#000" stroke-width="1.25"/>
<line x1="61.25" y1="325.50" x2="64.85" y2="325.50" stroke="#000" stroke-width="1.25"/>
<path d="M61.25,325.40 L64.85,325.40 L63.05,327.40Z" fill="#000"/>
<line x1="96.50" y1="346.51" x2="96.50" y2="338.10" stroke="#000" stroke-width="1.25"/>
<line x1="94.40" y1="338.50" x2="98.00" y2="338.50" stroke="#000" stroke-width="1.25"/>
<line x1="162.50" y1="356.98" x2="162.50" y2="349.60" stroke="#000" stroke-width="1.25"/>
<line x1="160.70" y1="349.50" x2="164.30" y2="349.50" stroke="#000" stroke-width="1.25"/>
<line x1="63.50" y1="359.40" x2="63.50" y2="370.80" stroke="#000" stroke-width="1.25"/>
<line x1="61.25" y1="370.50" x2="64.85" y2="370.50" stroke="#000" stroke-width="1.25"/>
<line x1="96.50" y1="354.57" x2="96.50" y2="359.90" stroke="#000" stroke-width="1.25"/>
<line x1="94.40" y1="359.50" x2="98.00" y2="359.50" stroke="#000" stroke-width="1.25"/>
<line x1="96.50" y1="382.78" x2="96.50" y2="388.60" stroke="#000" stroke-width="1.25"/>
<line x1="94.40" y1="388.50" x2="98.00" y2="388.50" stroke="#000" stroke-width="1.25"/>
<line x1="162.50" y1="381.16" x2="162.50" y2="387.20" stroke="#000" stroke-width="1.25"/>
<line x1="160.70" y1="387.50" x2="164.30" y2="387.50" stroke="#000" stroke-width="1.25"/>
<line x1="29.50" y1="375.52" x2="29.50" y2="379.50" stroke="#000" stroke-width="1.25"/>
<line x1="28.10" y1="379.50" x2="31.70" y2="379.50" stroke="#000" stroke-width="1.25"/>
<line x1="162.50" y1="369.07" x2="162.50" y2="372.50" stroke="#000" stroke-width="1.25"/>
<line x1="160.70" y1="372.50" x2="164.30" y2="372.50" stroke="#000" stroke-width="1.25"/>
<path d="M29.90,369.07 L63.05,361.82 L96.20,382.78 L162.50,381.16" stroke="#6cc9dd" stroke-width="1.4" fill="none" stroke-linejoin="round"/>
<circle cx="29.90" cy="369.07" r="3.70" fill="#6cc9dd"/>
<circle cx="63.05" cy="361.82" r="3.70" fill="#6cc9dd"/>
<circle cx="96.20" cy="382.78" r="3.70" fill="#6cc9dd"/>
<circle cx="162.50" cy="381.16" r="3.70" fill="#6cc9dd"/>
<path d="M29.90,375.52 L63.05,338.45 L96.20,348.12 L162.50,365.85" stroke="#f3831f" stroke-width="1.6" fill="none" stroke-linejoin="round"/>
<path d="M29.90,372.02 L33.40,375.52 L29.90,379.02 L26.40,375.52Z" fill="#f3831f"/>
<path d="M63.05,334.95 L66.55,338.45 L63.05,341.95 L59.55,338.45Z" fill="#f3831f"/>
<path d="M96.20,344.62 L99.70,348.12 L96.20,351.62 L92.70,348.12Z" fill="#f3831f"/>
<path d="M162.50,362.35 L166.00,365.85 L162.50,369.35 L159.00,365.85Z" fill="#f3831f"/>
<path d="M29.90,367.06 L63.05,359.40 L96.20,354.57 L162.50,369.07" stroke="#e0409c" stroke-width="1.4" fill="none" stroke-linejoin="round"/>
<rect x="26.30" y="363.46" width="7.20" height="7.20" fill="#e0409c"/>
<rect x="59.45" y="355.80" width="7.20" height="7.20" fill="#e0409c"/>
<rect x="92.60" y="350.97" width="7.20" height="7.20" fill="#e0409c"/>
<rect x="158.90" y="365.47" width="7.20" height="7.20" fill="#e0409c"/>
<path d="M29.90,346.51 L63.05,336.03 L96.20,346.51 L162.50,356.98" stroke="#3c55a5" stroke-width="1.8" fill="none" stroke-linejoin="round"/>
<path d="M29.90,342.62 L33.78,349.47 L26.01,349.47Z" fill="#3c55a5"/>
<path d="M63.05,332.14 L66.94,338.99 L59.16,338.99Z" fill="#3c55a5"/>
<path d="M96.20,342.62 L100.08,349.47 L92.31,349.47Z" fill="#3c55a5"/>
<path d="M162.50,353.10 L166.38,359.94 L158.62,359.94Z" fill="#3c55a5"/>
<path d="M56.50,338.50 L53.50,338.50 L53.50,359.50 L56.50,359.50" stroke="#444" stroke-width="0.9" fill="none"/>
<line x1="53.50" y1="362.00" x2="53.50" y2="378.50" stroke="#333" stroke-width="0.8"/>
<path d="M91.50,347.50 L88.50,347.50 L88.50,383.50 L91.50,383.50" stroke="#444" stroke-width="0.9" fill="none"/>
<path d="M102.50,347.50 L105.50,347.50 L105.50,383.50 L102.50,383.50" stroke="#444" stroke-width="0.9" fill="none"/>
<line x1="85.40" y1="329.00" x2="88.60" y2="342.10" stroke="#333" stroke-width="0.8"/>
<path d="M167.50,357.50 L170.50,357.50 L170.50,381.50 L167.50,381.50" stroke="#444" stroke-width="0.9" fill="none"/>
<text transform="translate(73.60,314.30)" font-size="7.1" text-anchor="start" font-weight="bold" font-style="normal" fill="#000"><tspan font-style="italic">P</tspan>&lt;0.01</text>
<text transform="translate(73.60,321.60)" font-size="7.1" text-anchor="start" font-weight="bold" font-style="italic" fill="#000">vs HFD+Met</text>
<text transform="translate(81.70,328.60)" font-size="7.1" text-anchor="start" font-weight="bold" font-style="italic" fill="#000">+Met+Ro+2-ME</text>
<text transform="translate(41.20,387.60)" font-size="7.1" text-anchor="start" font-weight="bold" font-style="normal" fill="#000"><tspan font-style="italic">P</tspan>&lt;0.05</text>
<text transform="translate(40.20,395.90)" font-size="7.1" text-anchor="start" font-weight="bold" font-style="italic" fill="#000">vs HFD+Met</text>
<text transform="translate(49.50,402.10)" font-size="7.1" text-anchor="start" font-weight="bold" font-style="italic" fill="#000">+ Met+Ro</text>
<text transform="translate(166.30,357.40)" font-size="7.1" text-anchor="start" font-weight="bold" font-style="normal" fill="#000"><tspan font-style="italic">P</tspan>&lt;0.05</text>
<text transform="translate(106.50,389.80)" font-size="7.1" text-anchor="start" font-weight="bold" font-style="normal" fill="#000"><tspan font-style="italic">P</tspan>&lt;0.01</text>
<text transform="translate(106.50,398.00)" font-size="7.1" text-anchor="start" font-weight="bold" font-style="italic" fill="#000">vs HFD+Met</text>
<text transform="translate(197.10,324.10)" font-size="14" text-anchor="start" font-weight="bold" font-style="normal" fill="#000" stroke="#000" stroke-width="0.2">j.</text>
<line x1="248.50" y1="347.00" x2="248.50" y2="428.60" stroke="#000" stroke-width="1.2"/>
<line x1="248.00" y1="428.50" x2="316.00" y2="428.50" stroke="#000" stroke-width="1.2"/>
<line x1="246.00" y1="428.50" x2="248.60" y2="428.50" stroke="#000" stroke-width="1.0"/>
<text transform="translate(245.80,430.90)" font-size="8.2" text-anchor="end" font-weight="bold" font-style="normal" fill="#000" stroke="#000" stroke-width="0.2">0</text>
<line x1="246.00" y1="411.50" x2="248.60" y2="411.50" stroke="#000" stroke-width="1.0"/>
<text transform="translate(245.80,414.81)" font-size="8.2" text-anchor="end" font-weight="bold" font-style="normal" fill="#000" stroke="#000" stroke-width="0.2">20</text>
<line x1="246.00" y1="395.50" x2="248.60" y2="395.50" stroke="#000" stroke-width="1.0"/>
<text transform="translate(245.80,398.72)" font-size="8.2" text-anchor="end" font-weight="bold" font-style="normal" fill="#000" stroke="#000" stroke-width="0.2">40</text>
<line x1="246.00" y1="379.50" x2="248.60" y2="379.50" stroke="#000" stroke-width="1.0"/>
<text transform="translate(245.80,382.63)" font-size="8.2" text-anchor="end" font-weight="bold" font-style="normal" fill="#000" stroke="#000" stroke-width="0.2">60</text>
<line x1="246.00" y1="363.50" x2="248.60" y2="363.50" stroke="#000" stroke-width="1.0"/>
<text transform="translate(245.80,366.54)" font-size="8.2" text-anchor="end" font-weight="bold" font-style="normal" fill="#000" stroke="#000" stroke-width="0.2">80</text>
<line x1="246.00" y1="347.50" x2="248.60" y2="347.50" stroke="#000" stroke-width="1.0"/>
<text transform="translate(245.80,350.45)" font-size="8.2" text-anchor="end" font-weight="bold" font-style="normal" fill="#000" stroke="#000" stroke-width="0.2">100</text>
<text transform="translate(231.60,387.30) rotate(-90)" font-size="9.4" text-anchor="middle" font-weight="bold" font-style="normal" fill="#000" stroke="#000" stroke-width="0.2">Insulin AUC</text>
<line x1="257.50" y1="374.50" x2="257.50" y2="370.10" stroke="#000" stroke-width="1.1"/>
<line x1="255.30" y1="370.50" x2="259.70" y2="370.50" stroke="#000" stroke-width="1.1"/>
<rect x="251.50" y="374.50" width="12.00" height="53.50" fill="#6cc9dd" stroke="#000" stroke-width="1.0"/>
<line x1="274.50" y1="360.50" x2="274.50" y2="356.60" stroke="#000" stroke-width="1.1"/>
<line x1="272.30" y1="356.50" x2="276.70" y2="356.50" stroke="#000" stroke-width="1.1"/>
<rect x="268.50" y="360.50" width="12.00" height="67.50" fill="#f3831f" stroke="#000" stroke-width="1.0"/>
<line x1="291.50" y1="365.50" x2="291.50" y2="362.40" stroke="#000" stroke-width="1.1"/>
<line x1="289.30" y1="362.50" x2="293.70" y2="362.50" stroke="#000" stroke-width="1.1"/>
<rect x="285.50" y="365.50" width="12.00" height="62.50" fill="#ec1e8c" stroke="#000" stroke-width="1.0"/>
<line x1="308.50" y1="356.50" x2="308.50" y2="353.00" stroke="#000" stroke-width="1.1"/>
<line x1="306.30" y1="353.50" x2="310.70" y2="353.50" stroke="#000" stroke-width="1.1"/>
<rect x="302.50" y="356.50" width="12.00" height="71.50" fill="#3c55a5" stroke="#000" stroke-width="1.0"/>
<path d="M256.50,323.50 L256.50,318.50 L306.50,318.50 L306.50,320.50" stroke="#8a8a8a" stroke-width="0.9" fill="none"/>
<path d="M256.50,348.50 L256.50,338.50 L273.50,338.50 L273.50,343.50" stroke="#8a8a8a" stroke-width="0.9" fill="none"/>
<path d="M289.50,343.50 L289.50,333.50 L306.50,333.50 L306.50,338.50" stroke="#8a8a8a" stroke-width="0.9" fill="none"/>
<text transform="translate(282.50,315.80)" font-size="8.1" text-anchor="middle" font-weight="bold" font-style="normal" fill="#000" stroke="#000" stroke-width="0.2"><tspan font-style="italic">P</tspan><tspan font-weight="normal" stroke-width="0.15">&lt;0.01</tspan></text>
<text transform="translate(265.60,334.00)" font-size="8.1" text-anchor="middle" font-weight="bold" font-style="normal" fill="#000" stroke="#000" stroke-width="0.2"><tspan font-style="italic">P</tspan><tspan font-weight="normal" stroke-width="0.15">&lt;0.05</tspan></text>
<text transform="translate(298.10,331.80)" font-size="8.1" text-anchor="middle" font-weight="bold" font-style="normal" fill="#000" stroke="#000" stroke-width="0.2"><tspan font-style="italic">P</tspan><tspan font-weight="normal" stroke-width="0.15">=0.06</tspan></text>
<text transform="translate(361.30,293.70)" font-size="14" text-anchor="start" font-weight="bold" font-style="normal" fill="#000" stroke="#000" stroke-width="0.2">k.</text>
<line x1="381.50" y1="304.00" x2="381.50" y2="427.00" stroke="#000" stroke-width="1.2"/>
<line x1="380.80" y1="426.50" x2="520.50" y2="426.50" stroke="#000" stroke-width="1.2"/>
<line x1="378.60" y1="426.50" x2="381.40" y2="426.50" stroke="#000" stroke-width="1.0"/>
<line x1="378.60" y1="406.50" x2="381.40" y2="406.50" stroke="#000" stroke-width="1.0"/>
<line x1="378.60" y1="385.50" x2="381.40" y2="385.50" stroke="#000" stroke-width="1.0"/>
<line x1="378.60" y1="365.50" x2="381.40" y2="365.50" stroke="#000" stroke-width="1.0"/>
<line x1="378.60" y1="345.50" x2="381.40" y2="345.50" stroke="#000" stroke-width="1.0"/>
<line x1="378.60" y1="324.50" x2="381.40" y2="324.50" stroke="#000" stroke-width="1.0"/>
<line x1="378.60" y1="304.50" x2="381.40" y2="304.50" stroke="#000" stroke-width="1.0"/>
<text transform="translate(375.80,429.70)" font-size="9.2" text-anchor="end" font-weight="bold" font-style="normal" fill="#000" stroke="#000" stroke-width="0.2">0</text>
<text transform="translate(375.80,389.04)" font-size="9.2" text-anchor="end" font-weight="bold" font-style="normal" fill="#000" stroke="#000" stroke-width="0.2">20</text>
<text transform="translate(375.80,348.38)" font-size="9.2" text-anchor="end" font-weight="bold" font-style="normal" fill="#000" stroke="#000" stroke-width="0.2">40</text>
<text transform="translate(375.80,307.72)" font-size="9.2" text-anchor="end" font-weight="bold" font-style="normal" fill="#000" stroke="#000" stroke-width="0.2">60</text>
<line x1="381.50" y1="426.40" x2="381.50" y2="428.90" stroke="#000" stroke-width="1.0"/>
<line x1="416.50" y1="426.40" x2="416.50" y2="428.90" stroke="#000" stroke-width="1.0"/>
<line x1="450.50" y1="426.40" x2="450.50" y2="428.90" stroke="#000" stroke-width="1.0"/>
<line x1="485.50" y1="426.40" x2="485.50" y2="428.90" stroke="#000" stroke-width="1.0"/>
<line x1="520.50" y1="426.40" x2="520.50" y2="428.90" stroke="#000" stroke-width="1.0"/>
<text transform="translate(381.40,437.40)" font-size="9.0" text-anchor="middle" font-weight="bold" font-style="normal" fill="#000" stroke="#000" stroke-width="0.2">0</text>
<text transform="translate(450.70,437.40)" font-size="9.0" text-anchor="middle" font-weight="bold" font-style="normal" fill="#000" stroke="#000" stroke-width="0.2">30</text>
<text transform="translate(520.00,437.40)" font-size="9.0" text-anchor="middle" font-weight="bold" font-style="normal" fill="#000" stroke="#000" stroke-width="0.2">60</text>
<text transform="translate(529.60,437.60)" font-size="9.0" text-anchor="start" font-weight="bold" font-style="normal" fill="#000" stroke="#000" stroke-width="0.2">(min)</text>
<text transform="translate(362.30,369.00) rotate(-90)" font-size="9.3" text-anchor="middle" font-weight="bold" font-style="normal" fill="#000" stroke="#000" stroke-width="0.2">Insulin resistance index</text>
<line x1="381.50" y1="383.71" x2="381.50" y2="379.40" stroke="#000" stroke-width="1.25"/>
<line x1="379.60" y1="379.50" x2="383.20" y2="379.50" stroke="#000" stroke-width="1.25"/>
<line x1="381.50" y1="392.45" x2="381.50" y2="396.00" stroke="#000" stroke-width="1.25"/>
<line x1="379.60" y1="396.50" x2="383.20" y2="396.50" stroke="#000" stroke-width="1.25"/>
<line x1="416.50" y1="329.63" x2="416.50" y2="318.60" stroke="#000" stroke-width="1.25"/>
<line x1="414.25" y1="318.50" x2="417.85" y2="318.50" stroke="#000" stroke-width="1.25"/>
<line x1="416.50" y1="347.32" x2="416.50" y2="354.00" stroke="#000" stroke-width="1.25"/>
<line x1="414.25" y1="354.50" x2="417.85" y2="354.50" stroke="#000" stroke-width="1.25"/>
<line x1="450.50" y1="330.85" x2="450.50" y2="323.40" stroke="#000" stroke-width="1.25"/>
<line x1="448.90" y1="323.50" x2="452.50" y2="323.50" stroke="#000" stroke-width="1.25"/>
<line x1="448.90" y1="326.50" x2="452.50" y2="326.50" stroke="#000" stroke-width="1.0"/>
<line x1="450.50" y1="339.59" x2="450.50" y2="345.60" stroke="#000" stroke-width="1.25"/>
<line x1="448.90" y1="345.50" x2="452.50" y2="345.50" stroke="#000" stroke-width="1.25"/>
<line x1="520.50" y1="353.21" x2="520.50" y2="342.40" stroke="#000" stroke-width="1.25"/>
<line x1="518.20" y1="342.50" x2="521.80" y2="342.50" stroke="#000" stroke-width="1.25"/>
<line x1="518.20" y1="345.50" x2="521.80" y2="345.50" stroke="#000" stroke-width="1.0"/>
<line x1="520.50" y1="368.87" x2="520.50" y2="374.70" stroke="#000" stroke-width="1.25"/>
<line x1="518.20" y1="374.50" x2="521.80" y2="374.50" stroke="#000" stroke-width="1.25"/>
<path d="M381.40,385.74 L416.05,347.32 L450.70,361.95 L520.00,370.29" stroke="#6cc9dd" stroke-width="1.4" fill="none" stroke-linejoin="round"/>
<circle cx="381.40" cy="385.74" r="3.70" fill="#6cc9dd"/>
<circle cx="416.05" cy="347.32" r="3.70" fill="#6cc9dd"/>
<circle cx="450.70" cy="361.95" r="3.70" fill="#6cc9dd"/>
<circle cx="520.00" cy="370.29" r="3.70" fill="#6cc9dd"/>
<path d="M381.40,392.45 L416.05,331.87 L450.70,339.59 L520.00,368.87" stroke="#f3831f" stroke-width="1.6" fill="none" stroke-linejoin="round"/>
<path d="M381.40,388.95 L384.90,392.45 L381.40,395.95 L377.90,392.45Z" fill="#f3831f"/>
<path d="M416.05,328.37 L419.55,331.87 L416.05,335.37 L412.55,331.87Z" fill="#f3831f"/>
<path d="M450.70,336.09 L454.20,339.59 L450.70,343.09 L447.20,339.59Z" fill="#f3831f"/>
<path d="M520.00,365.37 L523.50,368.87 L520.00,372.37 L516.50,368.87Z" fill="#f3831f"/>
<path d="M381.40,387.77 L416.05,338.98 L450.70,330.85 L520.00,353.21" stroke="#e0409c" stroke-width="1.4" fill="none" stroke-linejoin="round"/>
<rect x="377.80" y="384.17" width="7.20" height="7.20" fill="#e0409c"/>
<rect x="412.45" y="335.38" width="7.20" height="7.20" fill="#e0409c"/>
<rect x="447.10" y="327.25" width="7.20" height="7.20" fill="#e0409c"/>
<rect x="516.40" y="349.61" width="7.20" height="7.20" fill="#e0409c"/>
<path d="M381.40,383.71 L416.05,329.63 L450.70,334.91 L520.00,353.21" stroke="#3c55a5" stroke-width="1.8" fill="none" stroke-linejoin="round"/>
<path d="M381.40,379.82 L385.28,386.67 L377.51,386.67Z" fill="#3c55a5"/>
<path d="M416.05,325.74 L419.93,332.59 L412.16,332.59Z" fill="#3c55a5"/>
<path d="M450.70,331.03 L454.58,337.87 L446.81,337.87Z" fill="#3c55a5"/>
<path d="M520.00,349.33 L523.88,356.17 L516.12,356.17Z" fill="#3c55a5"/>
<path d="M445.50,339.50 L442.50,339.50 L442.50,362.50 L445.50,362.50" stroke="#444" stroke-width="0.9" fill="none"/>
<path d="M455.50,337.50 L458.50,337.50 L458.50,362.50 L455.50,362.50" stroke="#444" stroke-width="0.9" fill="none"/>
<path d="M461.50,330.50 L464.50,330.50 L464.50,362.50 L461.50,362.50" stroke="#444" stroke-width="0.9" fill="none"/>
<text transform="translate(423.10,372.00)" font-size="7.2" text-anchor="start" font-weight="bold" font-style="normal" fill="#000"><tspan font-style="italic">P</tspan>&lt;0.05</text>
<text transform="translate(450.40,380.40)" font-size="7.2" text-anchor="start" font-weight="bold" font-style="normal" fill="#000"><tspan font-style="italic">P</tspan>&lt;0.01</text>
<line x1="458.50" y1="372.30" x2="458.50" y2="364.00" stroke="#333" stroke-width="0.7"/>
<path d="M457.7,366.0 L458.8,363.6 L459.9,366.0" stroke="#333" stroke-width="0.7" fill="none"/>
<text transform="translate(462.30,329.00)" font-size="7.2" text-anchor="start" font-weight="bold" font-style="normal" fill="#000"><tspan font-style="italic">P</tspan>&lt;0.01</text>
<path d="M526.50,352.50 L529.50,352.50 L529.50,369.50 L526.50,369.50" stroke="#444" stroke-width="0.9" fill="none"/>
<text transform="translate(532.00,357.70)" font-size="7.2" text-anchor="start" font-weight="bold" font-style="italic" fill="#000"><tspan font-style="italic">P</tspan>&lt;0.05</text>
<text transform="translate(530.20,366.10)" font-size="7.2" text-anchor="start" font-weight="bold" font-style="italic" fill="#000">vs HFD+Met</text>
<text transform="translate(532.70,374.30)" font-size="7.2" text-anchor="start" font-weight="bold" font-style="italic" fill="#000">+Ro+2-ME</text>
<line x1="527.30" y1="307.50" x2="543.30" y2="307.50" stroke="#6cc9dd" stroke-width="1.2"/>
<circle cx="535.00" cy="307.70" r="2.30" fill="#6cc9dd"/>
<line x1="527.30" y1="316.50" x2="543.30" y2="316.50" stroke="#f3831f" stroke-width="1.2"/>
<path d="M535.00,313.90 L537.70,316.60 L535.00,319.30 L532.30,316.60Z" fill="#f3831f"/>
<line x1="527.30" y1="325.50" x2="543.30" y2="325.50" stroke="#e0409c" stroke-width="1.2"/>
<rect x="532.70" y="322.70" width="4.60" height="4.60" fill="#e0409c"/>
<line x1="527.30" y1="334.50" x2="543.30" y2="334.50" stroke="#3c55a5" stroke-width="1.2"/>
<path d="M535.00,331.58 L537.41,335.84 L532.59,335.84Z" fill="#3c55a5"/>
<text transform="translate(545.60,310.70) scale(1.0,0.93)" font-size="9.2" text-anchor="start" font-weight="bold" font-style="normal" fill="#000" stroke="#000" stroke-width="0.2">HFD</text>
<text transform="translate(545.60,319.90) scale(1.0,0.93)" font-size="9.2" text-anchor="start" font-weight="bold" font-style="normal" fill="#000" stroke="#000" stroke-width="0.2">HFD+metformin</text>
<text transform="translate(545.60,328.40) scale(1.0,0.93)" font-size="9.2" text-anchor="start" font-weight="bold" font-style="normal" fill="#000" stroke="#000" stroke-width="0.2">HFD+metformin+Ro</text>
<text transform="translate(545.60,336.90) scale(1.0,0.93)" font-size="9.2" text-anchor="start" font-weight="bold" font-style="normal" fill="#000" stroke="#000" stroke-width="0.2">HFD+metformin+Ro+2-ME</text>
</svg></body></html>
